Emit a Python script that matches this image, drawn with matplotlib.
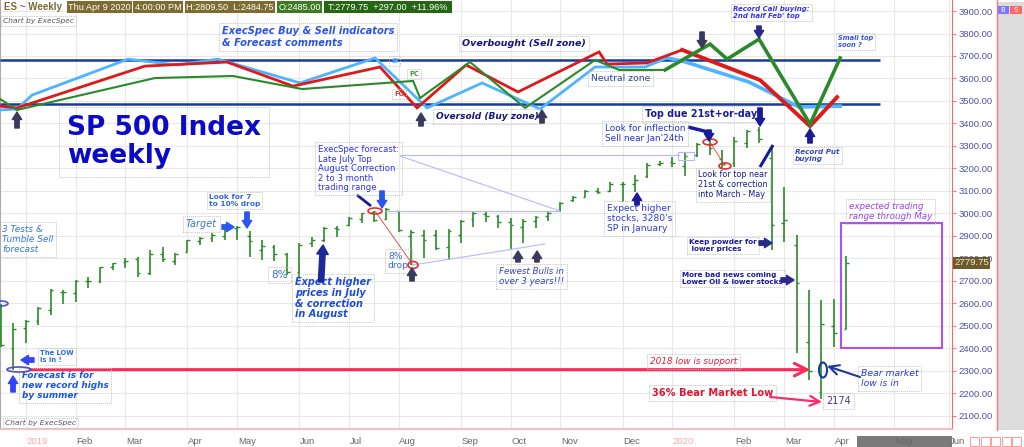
import matplotlib
matplotlib.use("Agg")
import matplotlib.pyplot as plt
from matplotlib.patches import Rectangle, Ellipse, FancyArrowPatch
from matplotlib.transforms import blended_transform_factory
from matplotlib.ticker import FormatStrFormatter
from datetime import date
import numpy as np

# ---- weekly ES bars (week 0 = week of Dec 17 2018) ----
first_week = date(2018, 12, 17)
bar_high = [2595, 2512, 2525, 2583, 2663, 2659, 2703, 2717, 2761, 2779, 2801, 2806, 2837, 2850,
            2823, 2881, 2895, 2912, 2935, 2944, 2921, 2881, 2859, 2823, 2868, 2895, 2939, 2944,
            2984, 3002, 3010, 3023, 3010, 2926, 2926, 2926, 2930, 2970, 3006, 3006, 2993, 2979,
            2975, 2988, 3006, 3050, 3077, 3104, 3113, 3140, 3140, 3170, 3224, 3233, 3250, 3273,
            3313, 3326, 3282, 3339, 3370, 3384, 3295, 3117, 2904, 2659, 2614, 2619, 2809.5]
bar_low = [2405, 2305, 2423, 2503, 2548, 2597, 2605, 2668, 2690, 2748, 2757, 2717, 2726, 2783,
           2770, 2828, 2859, 2872, 2881, 2881, 2806, 2792, 2788, 2726, 2717, 2850, 2872, 2895,
           2944, 2957, 2961, 2970, 2917, 2770, 2801, 2837, 2792, 2868, 2939, 2961, 2935, 2841,
           2868, 2935, 2966, 3006, 3050, 3073, 3086, 3095, 3050, 3095, 3157, 3211, 3206, 3166,
           3250, 3259, 3202, 3206, 3290, 3313, 2837, 2872, 2380, 2259, 2174, 2405, 2484.75]
bar_open = [2590, 2400, 2490, 2520, 2570, 2650, 2645, 2700, 2700, 2760, 2785, 2795, 2735, 2820,
            2790, 2830, 2875, 2892, 2900, 2935, 2900, 2835, 2850, 2820, 2740, 2870, 2880, 2935,
            2950, 2975, 3005, 2975, 3010, 2900, 2905, 2905, 2850, 2905, 2975, 2995, 2990, 2960,
            2940, 2965, 2990, 3015, 3060, 3075, 3100, 3100, 3130, 3130, 3165, 3220, 3230, 3210,
            3260, 3310, 3240, 3225, 3315, 3370, 3245, 2955, 2860, 2430, 2205, 2500, 2485]
bar_close = [2416, 2485, 2520, 2580, 2660, 2650, 2700, 2700, 2760, 2778, 2790, 2735, 2820, 2795,
             2820, 2880, 2890, 2905, 2932, 2940, 2875, 2855, 2820, 2740, 2860, 2880, 2935, 2930,
             2980, 3000, 2970, 3020, 2925, 2915, 2880, 2845, 2920, 2965, 3000, 2990, 2960, 2950,
             2965, 2985, 3000, 3045, 3075, 3100, 3095, 3130, 3130, 3150, 3215, 3225, 3225, 3255,
             3310, 3290, 3220, 3320, 3365, 3330, 2950, 2970, 2690, 2300, 2507, 2468, 2779.75]

# ---- ExecSpec indicator lines (week, value) ----
si_w = [-0.08, 1.29, 2.49, 10.22, 14.16, 17.46, 24.05, 30.09, 34.27, 38.7, 43.36, 47.79, 51.81,
        53.58, 54.79, 60.18, 64.2, 67.5]
si_v = [3460, 3464, 3526, 3686, 3660, 3686, 3580, 3691, 3469, 3580, 3464, 3651, 3651, 3691, 3678,
        3584, 3473, 3477]
fg_w = [-0.08, 1.29, 11.58, 18.18, 23.49, 30.49, 33.47, 37.41, 41.59, 48.11, 48.75, 51.97, 54.79,
        61.06, 65.08, 67.26]
fg_v = [3477, 3469, 3655, 3673, 3566, 3651, 3469, 3660, 3540, 3718, 3664, 3669, 3727, 3593, 3388,
        3517]
pc_w = [-0.08, 1.29, 12.39, 18.66, 24.22, 33.15, 33.71, 37.73, 42.16, 47.79, 49.72, 53.42, 57.04,
        58.41, 60.98, 65.08, 67.5]
pc_v = [3509, 3460, 3602, 3611, 3553, 3589, 3513, 3673, 3469, 3682, 3638, 3638, 3753, 3686, 3775,
        3397, 3691]

overbought_level = 3680
oversold_level = 3485
zone_end_week = 70.7
support_level = 2305
support_weeks = (2.33, 65.1)
range_low, range_high = 2400, 2955
range_weeks = (67.6, 75.7)
last_price = 2779.75
price_ticks = list(range(2100, 4000, 100))

month_starts = [date(2019, m, 1) for m in range(1, 13)] + [date(2020, m, 1) for m in range(1, 7)]
month_names = ["Jan", "Feb", "Mar", "Apr", "May", "Jun", "Jul", "Aug", "Sep", "Oct", "Nov", "Dec"]

W, H = 1024, 447
AX_W, AX_H = 952, 429

fig = plt.figure(figsize=(W / 100, H / 100), dpi=100)
fig.patch.set_facecolor("white")
ax = fig.add_axes([0, (H - AX_H) / H, AX_W / W, AX_H / H])
ax.set_xlim(-0.08, 76.5)
ax.set_ylim(2041, 3949)


def fx(x):
    return x / AX_W


def fy(y):
    return 1 - y / AX_H


def note(x, y, s, size, color, weight="normal", style="normal", ls=1.15):
    ax.text(fx(x), fy(y), s, transform=ax.transAxes, ha="left", va="top", fontsize=size,
            color=color, fontweight=weight, fontstyle=style, linespacing=ls, zorder=6,
            bbox=dict(boxstyle="square,pad=0.3", fc="none", ec="#c4c4c4", ls=(0, (1, 1)), lw=0.7))


def block(x0, y0, x1, y1, color, size=9):
    ax.add_patch(FancyArrowPatch((fx(x0), fy(y0)), (fx(x1), fy(y1)), transform=ax.transAxes,
                                 arrowstyle="simple,head_length=0.6,head_width=0.75,tail_width=0.35",
                                 mutation_scale=size, color=color, shrinkA=0, shrinkB=0,
                                 zorder=7, clip_on=False))


def thin_arrow(x0, y0, x1, y1, color, lw=1.5):
    ax.annotate("", xy=(fx(x1), fy(y1)), xytext=(fx(x0), fy(y0)), xycoords="axes fraction",
                arrowprops=dict(arrowstyle="->,head_length=0.7,head_width=0.35", color=color,
                                lw=lw, shrinkA=0, shrinkB=0), zorder=7)


def pline(pts, color, lw=1.0):
    ax.plot([fx(p[0]) for p in pts], [fy(p[1]) for p in pts], transform=ax.transAxes,
            color=color, lw=lw, zorder=5, solid_capstyle="butt")


def ring(x, y, w, h, color, lw=1.2):
    ax.add_patch(Ellipse((fx(x), fy(y)), w / AX_W, h / AX_H, transform=ax.transAxes,
                         fc="none", ec=color, lw=lw, zorder=7))


def indicator(ws, vs, color, lw_old, lw_new, split=53.4):
    # older part of the indicator is drawn thinner, as on the chart
    k = next(i for i, w in enumerate(ws) if w >= split)
    ax.plot(ws[:k + 1], vs[:k + 1], color=color, lw=lw_old, zorder=4, solid_joinstyle="miter")
    ax.plot(ws[k:], vs[k:], color=color, lw=lw_new, zorder=4, solid_joinstyle="miter")


# ---- month ticks ----
n_bars = len(bar_high)
tick_pos, tick_lab = [], []
for d in month_starts:
    pos = (d - date(2018, 12, 15)).days / 7
    if pos <= n_bars - 1:
        pos = float(int(pos))
    tick_pos.append(pos)
    tick_lab.append(str(d.year) if d.month == 1 else month_names[d.month - 1])

ax.set_xticks(tick_pos)
ax.tick_params(axis="x", length=0, labelbottom=False)
ax.set_yticks(price_ticks)
ax.yaxis.tick_right()
ax.yaxis.set_major_formatter(FormatStrFormatter("%.2f"))
ax.tick_params(axis="y", colors="#ff7777", labelcolor="#5050a8", length=3, width=0.8, pad=2,
               labelsize=6.8)
for lab in ax.get_yticklabels():
    lab.set_fontfamily("Liberation Sans")
ax.grid(True, color="#e8e8e8", lw=0.8)
ax.set_axisbelow(True)
ax.spines["top"].set_visible(False)
ax.spines["left"].set_color("#aaaaaa")
ax.spines["right"].set_color("#ff6666")
ax.spines["bottom"].set_color("#ffb0b0")
ax.spines["bottom"].set_linewidth(1.2)

xlab_tr = blended_transform_factory(ax.transData, ax.transAxes)
for pos, lab in zip(tick_pos, tick_lab):
    col = "#ffa8a8" if lab.isdigit() else "#666666"
    ax.text(pos + 0.05, fy(441), lab, transform=xlab_tr, ha="left", va="center", fontsize=6.8,
            color=col, family="Liberation Sans", zorder=3, clip_on=False)

# ---- zone lines and indicators ----
ax.hlines([overbought_level, oversold_level], -0.08, zone_end_week, color="#1a3a9a", lw=1.8, zorder=3)
indicator(si_w, si_v, "#4db4ff", 2.0, 2.6)
indicator(fg_w, fg_v, "#dd1a1a", 2.0, 2.8)
indicator(pc_w, pc_v, "#2a8a2a", 1.5, 2.6)

# ---- OHLC bars ----
weeks = np.arange(n_bars)
ax.vlines(weeks, bar_low, bar_high, color="#2a8a2a", lw=1.2, zorder=4)
ax.hlines(bar_open, weeks - 0.22, weeks, color="#2a8a2a", lw=1.0, zorder=4)
ax.hlines(bar_close, weeks, weeks + 0.22, color="#2a8a2a", lw=1.0, zorder=4)

# ---- support and trading range ----
ax.annotate("", xy=(support_weeks[1], support_level), xytext=(support_weeks[0], support_level),
            arrowprops=dict(arrowstyle="->,head_length=0.9,head_width=0.45", color="#ff2a5a",
                            lw=2.2, shrinkA=0, shrinkB=0), zorder=5)
ax.add_patch(Rectangle((range_weeks[0], range_low), range_weeks[1] - range_weeks[0],
                       range_high - range_low, fc="none", ec="#b050f0", lw=1.5, zorder=5))

# current price label
ytr = blended_transform_factory(ax.transAxes, ax.transData)
ax.text(1.0 + 2 / AX_W, last_price, f"{last_price:.2f}", transform=ytr, ha="left", va="center",
        fontsize=6.8, color="#f5ecc8", family="Liberation Sans", clip_on=False, zorder=8,
        bbox=dict(boxstyle="square,pad=0.15", fc="#6b5a2a", ec="none"))

# ---- helper lines / rings ----
pline([(400, 155), (680, 155)], "#b4b8ff", 0.8)
pline([(400, 156), (560, 211)], "#b4b8ff", 0.8)
pline([(385, 211), (560, 211)], "#b4b8ff", 0.8)
pline([(413, 265), (545, 244)], "#b4b8ff", 0.8)
ax.add_patch(Rectangle((fx(678), fy(160)), 16 / AX_W, 8 / AX_H, transform=ax.transAxes,
                       fc="none", ec="#b4b8ff", lw=0.8, zorder=5))
pline([(375, 211), (413, 265)], "#e05050", 0.7)
pline([(710, 142), (725, 166)], "#e05050", 0.7)
ring(375, 211, 14, 6, "#e03030")
ring(413, 265, 10, 7, "#e03030")
ring(710, 142, 14, 6, "#e03030")
ring(725, 166, 12, 6, "#e03030")
ring(19, 369.5, 24, 5, "#5050c0")
ring(1, 303.5, 14, 5, "#5050c0")
ring(823, 370, 8, 15, "#1a3a9a", 1.5)

# ---- arrows ----
dark = "#3a3a5c"
navy = "#1a1a9a"
blue = "#3344ff"
block(17, 128, 17, 112, dark)
block(421, 126, 421, 113, dark)
block(542, 123, 542, 110, dark)
block(702, 32, 702, 48, dark)
block(759, 26, 759, 38, "#2a2a8a")
block(810, 143, 810, 129, navy)
block(760, 108, 760, 126, navy)
pline([(688, 127), (708, 132)], navy, 2.5)
block(709, 130, 709, 141, navy)
pline([(760, 167), (773, 145)], navy, 2.2)
block(637, 205, 637, 193, navy)
block(518, 262, 518, 251, dark)
block(537, 262, 537, 251, dark)
block(412, 281, 412, 268, dark)
block(382, 191, 382, 208, "#2a55ee")
pline([(357, 195), (371, 206)], navy, 2.0)
block(247, 212, 247, 228, "#2a55ee")
block(222, 227, 234, 227, "#2a55ee")
block(321, 282, 323, 245, "#1a2a9a", 11)
block(34, 360, 21, 360, blue)
block(13, 392, 13, 376, blue)
block(759, 243, 772, 243, "#2a2a8a")
block(781, 280, 794, 280, "#2a2a8a")
thin_arrow(860, 377, 827, 366, "#1a3a9a", 1.5)
thin_arrow(770, 397, 822, 402, "#ff2a6a", 1.6)

# ---- annotations ----
note(222, 26, "ExecSpec Buy & Sell indicators\n& Forecast comments", 7.1, "#2a55e0", "bold", "italic", 1.3)
note(462, 39, "Overbought (Sell zone)", 6.8, "#15157a", "bold", "italic")
note(436, 112, "Oversold (Buy zone)", 6.5, "#15157a", "bold", "italic")
note(591, 74, "Neutral zone", 6.7, "#2b44a0")
note(67, 115, "SP 500 Index\nweekly", 19, "#0a0ac8", "bold", ls=1.12)
note(391, 58, "SI", 4.8, "#55bbff", "bold")
note(409, 71, "PC", 4.8, "#339933", "bold")
note(394, 91, "FG", 4.8, "#dd3333", "bold")
note(733, 6, "Record Call buying:\n2nd half Feb' top", 5, "#3333ee", "bold", "italic")
note(838, 35, "Small top\nsoon ?", 4.8, "#3355ee", "bold", "italic")
note(795, 149, "Record Put\nbuying", 5.2, "#3344cc", "bold", "italic")
note(645, 109, "Top due 21st+or-day", 6.9, "#1a1a9a", "bold")
note(605, 124, "Look for inflection\nSell near Jan'24th", 6.4, "#2233dd")
note(698, 170, "Look for top near\n21st & correction\ninto March - May", 5.8, "#1a1a99")
note(607, 204, "Expect higher\nstocks, 3280's\nSP in January", 6.6, "#2a3ae0")
note(689, 239, "Keep powder for\n lower prices", 5.2, "#1a1aa0", "bold")
note(682, 272, "More bad news coming\nLower Oil & lower stocks", 5.2, "#1a1aa0", "bold")
note(849, 202, "expected trading\nrange through May", 6.3, "#a040f0", style="italic")
note(861, 369, "Bear market\nlow is in", 6.7, "#2a3ae0", style="italic")
note(826, 396, "2174", 7, "#4a3a8a")
note(652, 388, "36% Bear Market Low", 7.1, "#dd1a33", "bold")
note(650, 357, "2018 low is support", 6.4, "#e02040", style="italic")
note(499, 267, "Fewest Bulls in\nover 3 years!!!", 6.3, "#3344cc", style="italic")
note(318, 145, "ExecSpec forecast:\nLate July Top\nAugust Correction\n2 to 3 month\ntrading range",
     6.1, "#2a33ee", ls=1.08)
note(209, 194, "Look for 7\nto 10% drop", 5.3, "#3366dd", "bold")
note(186, 219, "Target", 7, "#3377cc", style="italic")
note(271, 270, "8%", 7.5, "#3a6fd0")
note(388, 252, "8%\ndrop", 6.7, "#3a6fd0", ls=1.05)
note(295, 277, "Expect higher\nprices in July\n& correction\nin August", 7, "#1a4ae0", "bold", "italic", 1.1)
note(2, 225, "3 Tests &\nTumble Sell\nforecast", 6.4, "#3377dd", style="italic")
note(40, 350, "The LOW\nis in !", 4.9, "#2a6ae0", "bold")
note(22, 371, "Forecast is for\nnew record highs\nby summer", 6.4, "#1a55e0", "bold", "italic")
note(3, 18, "Chart by ExecSpec", 5.4, "#555555", style="italic")
note(5, 420, "Chart by ExecSpec", 5.4, "#555555", style="italic")

# ---- header strip ----
header = [
    (2, 64, None, "#7a6a32", "ES ~ Weekly", "bold"),
    (67, 132, "#7d6b30", "white", "Thu Apr 9 2020", "normal"),
    (133, 183, "#7d6b30", "white", "4:00:00 PM", "normal"),
    (185, 275, "#7d6b30", "white", "H:2809.50  L:2484.75", "normal"),
    (277, 322, "#3d7a22", "white", "O:2485.00", "normal"),
    (324, 452, "#246612", "white", "T:2779.75  +297.00  +11.96%", "normal"),
]
for x0, x1, bg, fg, s, wt in header:
    if bg:
        fig.add_artist(Rectangle((x0 / W, 1 - 12.5 / H), (x1 - x0) / W, 11 / H,
                                 transform=fig.transFigure, fc=bg, ec="none"))
    fig.text((x0 + x1) / 2 / W, 1 - 7 / H, s, ha="center", va="center", fontsize=6.6 if bg else 7,
             color=fg, fontweight=wt, family="Liberation Sans")

# ---- right strip, scroll bar and buttons ----
fig.add_artist(Rectangle((997 / W, (H - 430) / H), 27 / W, 428 / H, transform=fig.transFigure,
                         fc="#dcdcdc", ec="none"))
fig.add_artist(plt.Line2D([996.5 / W] * 2, [(H - 430) / H, 1], transform=fig.transFigure,
                          color="#ff7777", lw=1))
for x0, col, s in [(997, "#7777ff", "B"), (1010, "#ff6666", "S")]:
    fig.add_artist(Rectangle((x0 / W, 1 - 14 / H), 12 / W, 8 / H, transform=fig.transFigure,
                             fc=col, ec="none"))
    fig.text((x0 + 6) / W, 1 - 10 / H, s, ha="center", va="center", fontsize=5, color="white")
ax.add_patch(Rectangle((857 / AX_W, fy(447)), 95 / AX_W, 11 / AX_H, transform=ax.transAxes,
                       fc="#7a7a7a", ec="none", clip_on=False, zorder=0.5))
for i in range(5):
    x0 = 970 + i * 10.5
    fig.add_artist(Rectangle((x0 / W, 1 - 446 / H), 9 / W, 9 / H, transform=fig.transFigure,
                             fc="white", ec="#ff9999", lw=0.7))

fig.savefig("out.png", dpi=100)
